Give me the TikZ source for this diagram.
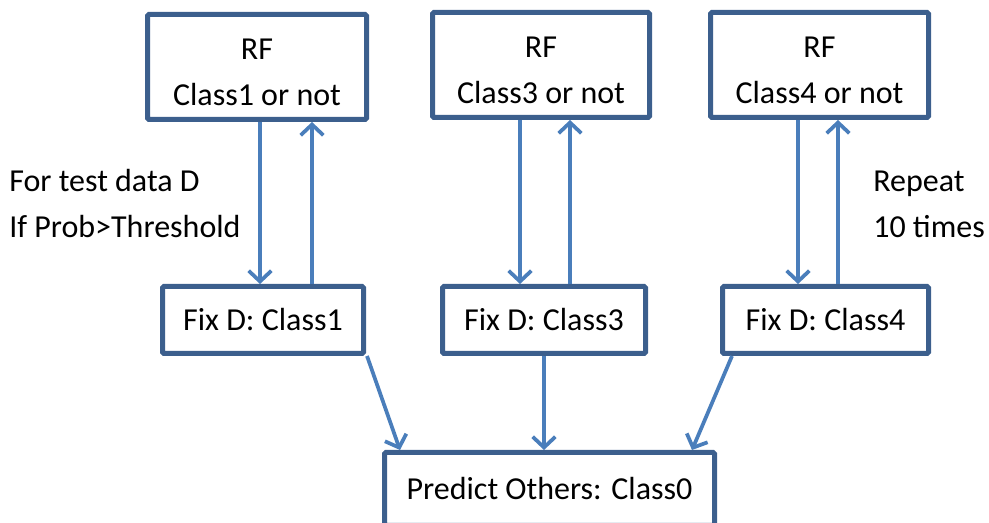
\documentclass[tikz,border=0pt]{standalone}
\usepackage{fontspec}
\setmainfont{Carlito}
\usetikzlibrary{arrows.meta,calc}
\definecolor{boxblue}{HTML}{3C5F8D}
\definecolor{arrblue}{HTML}{4A7EBB}
\newcommand{\rftext}[1]{\raisebox{-4.5pt}[\height][\depth]{\begin{tabular}{@{}c@{}}RF\\#1\end{tabular}}}
\begin{document}
\begin{tikzpicture}[x=0.75pt,y=-0.75pt,
  every node/.style={font=\fontsize{24}{34.5}\selectfont, text=black},
  box/.style={draw=boxblue, line width=3.75pt, fill=white, rounded corners=1pt, align=center, inner sep=0pt},
  arr/.style={draw=arrblue, line width=2.8pt, -{Straight Barb[length=8pt,width=17pt,line width=2.8pt]}},
  note/.style={align=left, anchor=west, inner sep=0pt}]
\useasboundingbox (0,0) rectangle (989,523);

\node[box, minimum width=219*0.75pt, minimum height=105*0.75pt] (rf1) at (257,67) {\rftext{Class1 or not}};
\node[box, minimum width=217*0.75pt, minimum height=105*0.75pt] (rf3) at (541,65) {\rftext{Class3 or not}};
\node[box, minimum width=218*0.75pt, minimum height=105*0.75pt] (rf4) at (819.5,65) {\rftext{Class4 or not}};

\node[box, minimum width=201*0.75pt, minimum height=67*0.75pt] (fix1) at (263,320) {Fix D: Class1};
\node[box, minimum width=203*0.75pt, minimum height=67*0.75pt] (fix3) at (544,320) {Fix D: Class3};
\node[box, minimum width=206*0.75pt, minimum height=67*0.75pt] (fix4) at (825.5,320) {Fix D: Class4};

\node[box, minimum width=330*0.75pt, minimum height=73*0.75pt] (pred) at (549.5,489) {Predict Others: Class0};

\node[note] (n1) at (9,204) {For test data D\\If Prob>Threshold};
\node[note] (n2) at (873,204) {Repeat\\10 times};

% RF <-> Fix
\draw[arr] ($(rf1.south)+(3,0)$) -- ($(fix1.north)+(-3,0)$);
\draw[arr] ($(fix1.north)+(49,0)$) -- ($(rf1.south)+(55,0)$);
\draw[arr] ($(rf3.south)+(-21,0)$) -- ($(fix3.north)+(-24,0)$);
\draw[arr] ($(fix3.north)+(26,0)$) -- ($(rf3.south)+(29,0)$);
\draw[arr] ($(rf4.south)+(-21.5,0)$) -- ($(fix4.north)+(-27.5,0)$);
\draw[arr] ($(fix4.north)+(12.5,0)$) -- ($(rf4.south)+(18.5,0)$);

% Fix -> Predict
\draw[arr] ($(fix1.south east)+(1,0)$) -- ($(pred.north west)+(18,0)$);
\draw[arr] (fix3.south) -- (fix3.south |- pred.north);
\draw[arr] ($(fix4.south west)+(12,0)$) -- ($(pred.north east)+(-25,0)$);
\end{tikzpicture}
\end{document}
